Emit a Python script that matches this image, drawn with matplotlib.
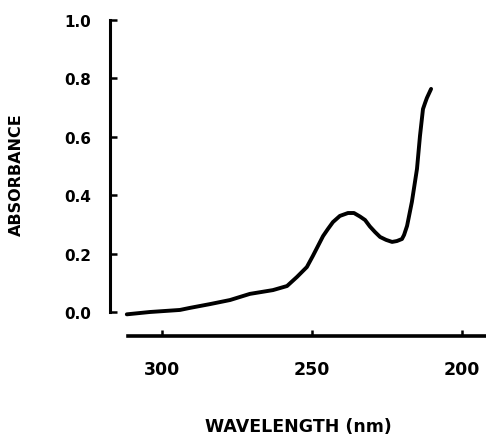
import matplotlib
matplotlib.use("Agg")
import matplotlib.pyplot as plt

# absorbance spectrum
wavelength = [311.7, 304.0, 294.0, 290.7, 284.0, 277.3, 270.7, 263.0, 258.3, 255.0,
              251.7, 249.7, 248.0, 246.3, 244.7, 243.0, 240.7, 238.0, 236.0, 234.0,
              232.3, 230.7, 229.0, 227.3, 225.3, 223.3, 221.7, 220.0, 219.3, 218.3,
              216.7, 215.0, 214.0, 213.0, 212.3, 211.7, 210.3]
absorbance = [-0.008, 0.0, 0.007, 0.014, 0.027, 0.041, 0.062, 0.075, 0.089, 0.120,
              0.154, 0.192, 0.226, 0.260, 0.284, 0.308, 0.329, 0.339, 0.339, 0.327,
              0.315, 0.293, 0.274, 0.257, 0.247, 0.240, 0.243, 0.250, 0.264, 0.295,
              0.377, 0.490, 0.603, 0.695, 0.716, 0.733, 0.764]

x_ticks = [300, 250, 200]
y_ticks = [0.0, 0.2, 0.4, 0.6, 0.8, 1.0]
y_tick_labels = ["0.0", "0.2", "0.4", "0.6", "0.8", "1.0"]

plt.rcParams['font.family'] = ['DejaVu Sans']
plt.rcParams['font.weight'] = 'bold'

fig = plt.figure(figsize=(4.86, 4.35), dpi=100)
ax = fig.add_axes([110 / 486, 122 / 435, 376 / 486, 292 / 435])

ax.plot(wavelength, absorbance, color='black', lw=2.8, clip_on=False,
        solid_capstyle='round', solid_joinstyle='round')

ax.set_xlim(317.3, 192.0)
ax.set_ylim(0, 1.0)

for s in ['top', 'right']:
    ax.spines[s].set_visible(False)
ax.spines['left'].set_linewidth(2.2)
ax.spines['bottom'].set_linewidth(2.6)
ax.spines['bottom'].set_position(('outward', 17.3))
ax.spines['bottom'].set_bounds(311.3, 192.0)

ax.set_xticks(x_ticks)
ax.set_xticklabels([str(t) for t in x_ticks], fontsize=12.5, fontweight='bold')
ax.set_yticks(y_ticks)
ax.set_yticklabels(y_tick_labels, fontsize=11, fontweight='bold')

ax.tick_params(axis='y', direction='in', length=5, width=1.8, pad=13.5)
ax.tick_params(axis='x', direction='in', length=4.5, width=1.8, pad=17)

ax.set_xlabel("WAVELENGTH (nm)", fontsize=12.5, fontweight='bold')
ax.xaxis.set_label_coords(0.5, -0.36)
ax.set_ylabel("ABSORBANCE", fontsize=11.5, fontweight='bold')
ax.yaxis.set_label_coords(-0.23, 0.473)

fig.savefig("out.png", dpi=100)
